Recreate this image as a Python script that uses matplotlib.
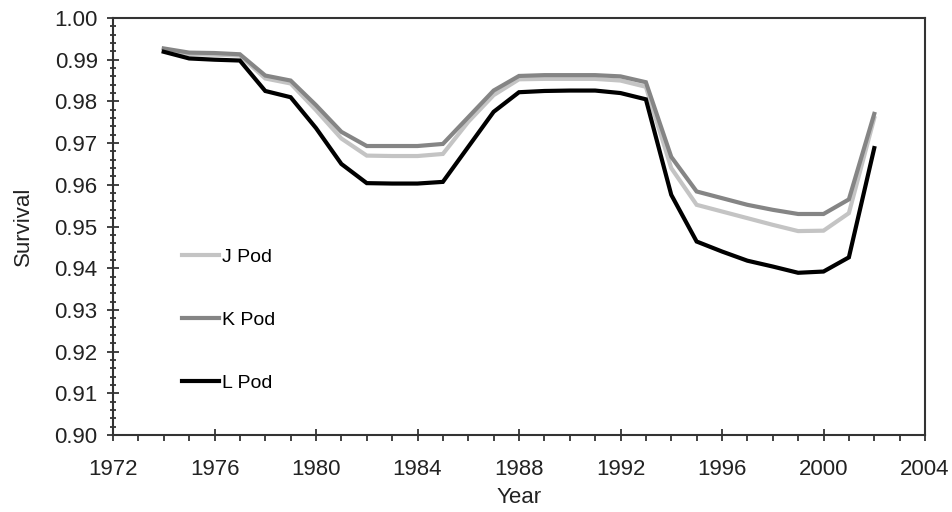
import matplotlib
matplotlib.use("Agg")
import matplotlib.pyplot as plt
from matplotlib.ticker import MultipleLocator

years = list(range(1974, 2003))
j_pod = [0.9922, 0.9913, 0.9912, 0.9910, 0.9855, 0.9843, 0.9779, 0.9711, 0.9670, 0.9669,
         0.9669, 0.9674, 0.9751, 0.9815, 0.9853, 0.9854, 0.9854, 0.9854, 0.9850, 0.9835,
         0.9640, 0.9552, 0.9536, 0.9520, 0.9504, 0.9489, 0.9490, 0.9532, 0.9760]
k_pod = [0.9927, 0.9917, 0.9916, 0.9913, 0.9862, 0.9850, 0.9791, 0.9727, 0.9693, 0.9693,
         0.9693, 0.9698, 0.9762, 0.9826, 0.9861, 0.9863, 0.9863, 0.9863, 0.9860, 0.9846,
         0.9667, 0.9584, 0.9568, 0.9552, 0.9540, 0.9530, 0.9530, 0.9565, 0.9770]
l_pod = [0.9919, 0.9903, 0.9900, 0.9898, 0.9825, 0.9810, 0.9736, 0.9650, 0.9604, 0.9603,
         0.9603, 0.9607, 0.9691, 0.9775, 0.9822, 0.9825, 0.9826, 0.9826, 0.9820, 0.9805,
         0.9576, 0.9464, 0.9440, 0.9418, 0.9404, 0.9389, 0.9392, 0.9426, 0.9688]
series_labels = ["J Pod", "K Pod", "L Pod"]
x_ticks = [1972, 1976, 1980, 1984, 1988, 1992, 1996, 2000, 2004]
y_ticks = [0.90, 0.91, 0.92, 0.93, 0.94, 0.95, 0.96, 0.97, 0.98, 0.99, 1.00]

plt.rcParams['font.family'] = ['Liberation Sans', 'DejaVu Sans']

fig = plt.figure(figsize=(9.53, 5.12), dpi=100)
ax = fig.add_axes([113/953, 1-435/512, 812/953, 417/512])

colors = ["#c4c4c4", "#858585", "#000000"]
for vals, lab, c in zip([j_pod, k_pod, l_pod], series_labels, colors):
    ax.plot(years, vals, color=c, lw=3.0, label=lab, solid_joinstyle='miter')

ax.set_xlim(1972, 2004)
ax.set_ylim(0.90, 1.00)
ax.set_xticks(x_ticks)
ax.set_yticks(y_ticks)
ax.set_yticklabels([f"{v:.2f}" for v in y_ticks])
ax.xaxis.set_minor_locator(MultipleLocator(1))
ax.yaxis.set_minor_locator(MultipleLocator(0.002))
ax.tick_params(axis='both', which='major', direction='inout', length=8, width=1.2,
               labelsize=16, colors='#222222')
ax.tick_params(axis='x', which='major', pad=13)
ax.tick_params(axis='y', which='major', pad=7)
ax.tick_params(axis='x', which='minor', direction='out', length=4, width=1.2, colors='#222222')
ax.tick_params(axis='y', which='minor', direction='inout', length=5, width=1.2, colors='#222222')
for s in ax.spines.values():
    s.set_linewidth(1.5)
    s.set_color('#333333')

ax.set_xlabel("Year", fontsize=16, color='#222222', labelpad=5)
ax.set_ylabel("Survival", fontsize=16, color='#222222', labelpad=15)

leg = ax.legend(loc='upper left', bbox_to_anchor=((182-113)/812, (435-248)/417),
                frameon=False, fontsize=14, handlelength=1.9, handletextpad=0.15,
                labelspacing=2.35, borderpad=0, borderaxespad=0)

fig.savefig("out.png", dpi=100)
